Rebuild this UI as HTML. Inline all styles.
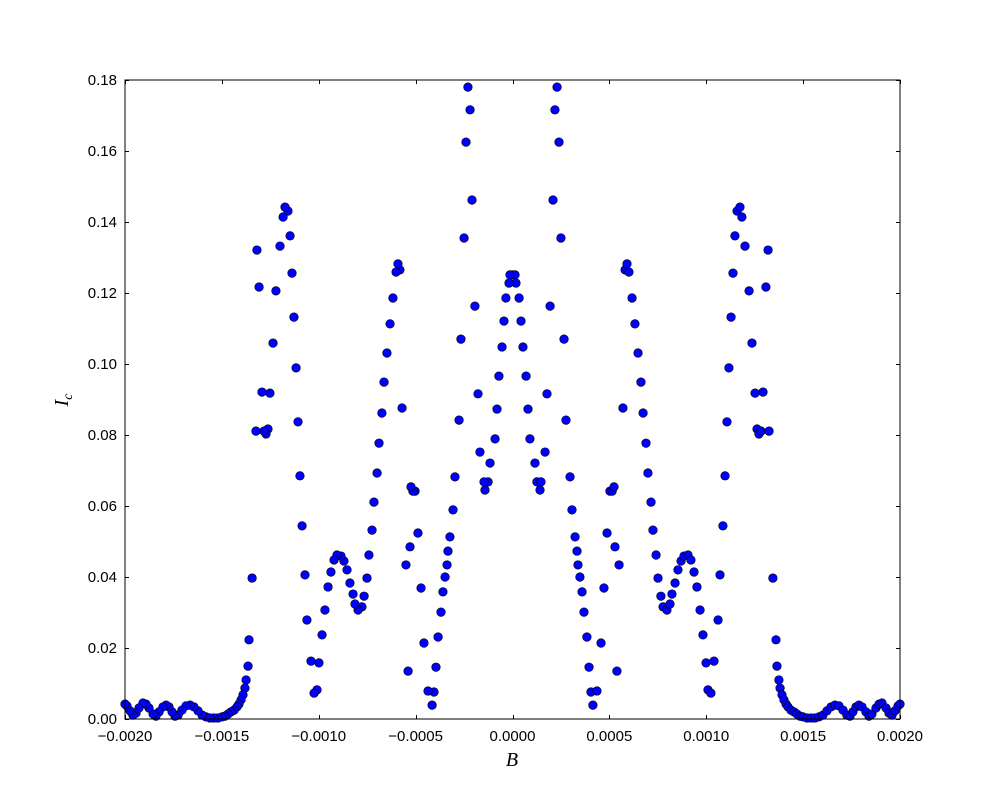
<!DOCTYPE html>
<html><head><meta charset="utf-8">
<style>
body{margin:0;background:#fff;}
svg{display:block;font-family:"Liberation Sans",sans-serif;}
</style></head>
<body>
<svg id="chart" width="1000" height="800" viewBox="0 0 1000 800" xmlns="http://www.w3.org/2000/svg">
<rect x="0" y="0" width="1000" height="800" fill="#fff"/>
<g id="ticks"></g>
<g id="points"></g>
<rect x="125" y="80" width="775" height="639" fill="none" stroke="#000" stroke-width="1"/>
<text x="512" y="766" font-family="Liberation Serif,serif" font-style="italic" font-size="20" text-anchor="middle">B</text>
<text transform="translate(68,400) rotate(-90)" font-family="Liberation Serif,serif" font-style="italic" font-size="20" text-anchor="middle">I<tspan font-size="14" dy="4">c</tspan></text>
</svg>
<script>
// B values in units of 1e-6, Ic values
const bMicroRight = [0,13,18,34,44,54,70,80,90,116,126,142,147,168,178,194,209,219,230,240,250,266,276,297,307,323,333,338,348,359,369,384,395,405,415,436,457,472,488,503,514,524,529,550,539,570,581,591,601,617,632,648,663,674,689,699,715,725,741,751,766,777,797,813,823,839,854,870,885,906,921,937,952,968,983,999,1009,1024,1040,1061,1071,1086,1097,1107,1117,1128,1138,1148,1159,1174,1184,1200,1221,1236,1252,1262,1272,1283,1293,1308,1319,1324,1344,1360,1365,1375,1381,1391,1401,1412,1422,1437,1453,1468,1484,1499,1520,1541,1561,1582,1602,1623,1644,1664,1685,1706,1726,1742,1757,1773,1788,1804,1824,1840,1855,1876,1892,1907,1928,1943,1959,1974,1990,2000];
const icRight = [.1251,.1251,.1228,.1186,.1121,.1048,.0966,.0873,.0789,.0721,.0668,.0645,.0668,.0752,.0916,.1163,.1462,.1716,.1780,.1625,.1355,.1070,.0842,.0682,.0589,.0513,.0473,.0434,.0400,.0358,.0301,.0231,.0146,.0076,.0039,.0079,.0214,.0369,.0524,.0642,.0642,.0654,.0485,.0434,.0135,.0876,.1265,.1282,.1259,.1186,.1113,.1031,.0949,.0862,.0777,.0693,.0611,.0532,.0462,.0397,.0346,.0316,.0307,.0324,.0352,.0383,.0420,.0445,.0459,.0462,.0448,.0414,.0372,.0307,.0237,.0158,.0082,.0073,.0163,.0279,.0406,.0544,.0685,.0837,.0989,.1132,.1256,.1361,.1431,.1442,.1414,.1332,.1206,.1059,.0918,.0817,.0803,.0811,.0921,.1217,.1321,.0811,.0397,.0223,.0149,.0110,.0087,.0068,.0054,.0042,.0034,.0025,.0020,.0014,.0008,.0006,.0003,.0003,.0003,.0006,.0011,.0023,.0034,.0039,.0037,.0025,.0011,.0008,.0020,.0034,.0039,.0034,.0020,.0008,.0014,.0031,.0042,.0045,.0031,.0017,.0011,.0023,.0037,.0042];
const bMicroLeft = [-13,-18,-34,-44,-54,-70,-80,-90,-116,-126,-142,-147,-168,-178,-194,-209,-219,-230,-240,-250,-266,-276,-297,-307,-323,-333,-338,-348,-359,-369,-384,-395,-405,-415,-436,-457,-472,-488,-503,-514,-524,-529,-550,-539,-570,-581,-591,-601,-617,-632,-648,-663,-674,-689,-699,-715,-725,-741,-751,-766,-777,-797,-813,-823,-839,-854,-870,-885,-906,-921,-937,-952,-968,-983,-999,-1009,-1024,-1040,-1061,-1071,-1086,-1097,-1107,-1117,-1128,-1138,-1148,-1159,-1174,-1184,-1200,-1221,-1236,-1252,-1262,-1272,-1283,-1293,-1308,-1319,-1324,-1344,-1360,-1365,-1375,-1381,-1391,-1401,-1412,-1422,-1437,-1453,-1468,-1484,-1499,-1520,-1541,-1561,-1582,-1602,-1623,-1644,-1664,-1685,-1706,-1726,-1742,-1757,-1773,-1788,-1804,-1824,-1840,-1855,-1876,-1892,-1907,-1928,-1943,-1959,-1974,-1990,-2000];
const icLeft = [.1251,.1228,.1186,.1121,.1048,.0966,.0873,.0789,.0721,.0668,.0645,.0668,.0752,.0916,.1163,.1462,.1716,.1780,.1625,.1355,.1070,.0842,.0682,.0589,.0513,.0473,.0434,.0400,.0358,.0301,.0231,.0146,.0076,.0039,.0079,.0214,.0369,.0524,.0642,.0642,.0654,.0485,.0434,.0135,.0876,.1265,.1282,.1259,.1186,.1113,.1031,.0949,.0862,.0777,.0693,.0611,.0532,.0462,.0397,.0346,.0316,.0307,.0324,.0352,.0383,.0420,.0445,.0459,.0462,.0448,.0414,.0372,.0307,.0237,.0158,.0082,.0073,.0163,.0279,.0406,.0544,.0685,.0837,.0989,.1132,.1256,.1361,.1431,.1442,.1414,.1332,.1206,.1059,.0918,.0817,.0803,.0811,.0921,.1217,.1321,.0811,.0397,.0223,.0149,.0110,.0087,.0068,.0054,.0042,.0034,.0025,.0020,.0014,.0008,.0006,.0003,.0003,.0003,.0006,.0011,.0023,.0034,.0039,.0037,.0025,.0011,.0008,.0020,.0034,.0039,.0034,.0020,.0008,.0014,.0031,.0042,.0045,.0031,.0017,.0011,.0023,.0037,.0042];
const xTickValues = [-0.002,-0.0015,-0.001,-0.0005,0,0.0005,0.001,0.0015,0.002];
const xTickLabels = ["\u22120.0020","\u22120.0015","\u22120.0010","\u22120.0005","0.0000","0.0005","0.0010","0.0015","0.0020"];
const yTickValues = [0,0.02,0.04,0.06,0.08,0.10,0.12,0.14,0.16,0.18];
const yTickLabels = ["0.00","0.02","0.04","0.06","0.08","0.10","0.12","0.14","0.16","0.18"];

const L=125,R=900,T=80,B=719;
function xScale(v){return L+(v-(-0.002))/(0.004)*(R-L);}
function yScale(v){return B-(v/0.18)*(B-T);}
const NS="http://www.w3.org/2000/svg";
const tg=document.getElementById('ticks');
function line(x1,y1,x2,y2,name){
  const l=document.createElementNS(NS,'line');
  l.setAttribute('x1',x1);l.setAttribute('y1',y1);l.setAttribute('x2',x2);l.setAttribute('y2',y2);
  l.setAttribute('stroke','#000');l.setAttribute('stroke-width','1');
  
  
  tg.appendChild(l);
}
function label(x,y,txt,anchor,name){
  const t=document.createElementNS(NS,'text');
  t.setAttribute('x',x);t.setAttribute('y',y);t.setAttribute('text-anchor',anchor);
  t.setAttribute('font-size','15');t.textContent=txt;
  
  
  tg.appendChild(t);
}
xTickValues.forEach((v,i)=>{
  const x=Math.round(xScale(v))+0.5;
  line(x,B,x,B-4,'x-tick-mark');
  line(x,T,x,T+4,'x-tick-mark-top');
  label(xScale(v),741,xTickLabels[i],'middle','x-tick-label');
});
yTickValues.forEach((v,i)=>{
  const y=Math.round(yScale(v))+0.5;
  line(L,y,L+4,y,'y-tick-mark');
  line(R,y,R-4,y,'y-tick-mark-right');
  label(117,yScale(v)+5,yTickLabels[i],'end','y-tick-label');
});
const pg=document.getElementById('points');
function dot(bm,ic){
  const c=document.createElementNS(NS,'circle');
  c.setAttribute('cx',xScale(bm*1e-6));c.setAttribute('cy',yScale(ic));c.setAttribute('r','4.3');
  c.setAttribute('fill','#0000ff');c.setAttribute('stroke','#000');c.setAttribute('stroke-width','0.6');
  
  
  pg.appendChild(c);
}
bMicroRight.forEach((b,i)=>dot(b,icRight[i]));
bMicroLeft.forEach((b,i)=>dot(b,icLeft[i]));
</script>
</body></html>
